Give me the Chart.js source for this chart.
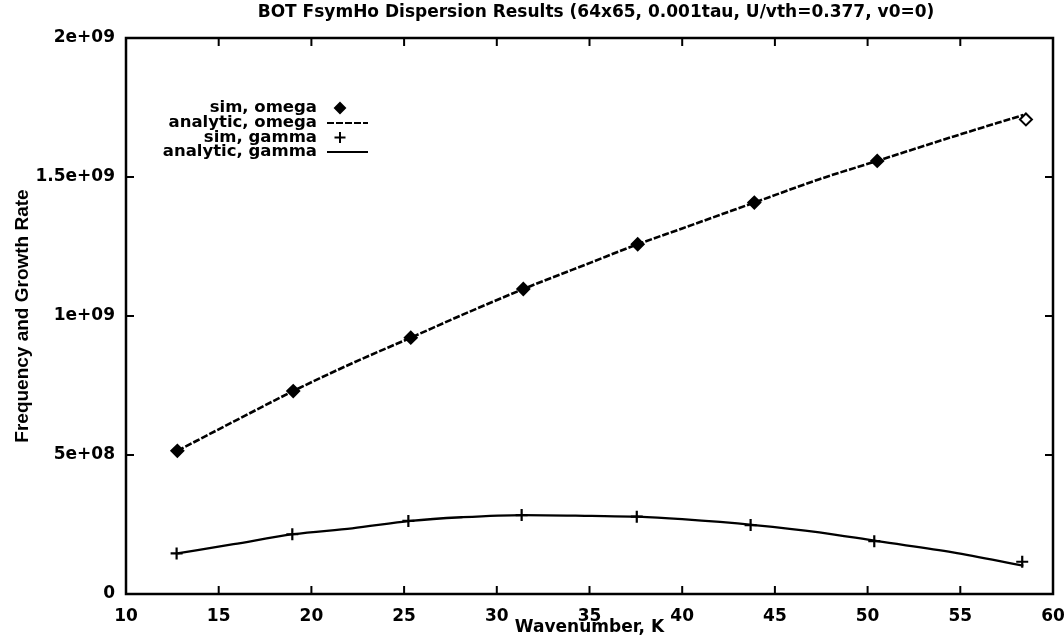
<!DOCTYPE html>
<html>
<head>
<meta charset="utf-8">
<title>BOT FsymHo Dispersion Results</title>
<script src="https://cdn.jsdelivr.net/npm/chart.js@4.4.1/dist/chart.umd.min.js"></script>
<style>
  html, body { margin: 0; padding: 0; background: #fff; }
  #wrap { width: 1064px; height: 639px; }
</style>
</head>
<body>
<div id="wrap"><canvas id="plot" width="1064" height="639"></canvas></div>
<script>
// Simulated points (wavenumber K, frequency omega, growth rate gamma)
const simK      = [12.77, 19.02, 25.36, 31.43, 37.60, 43.89, 50.52, 58.54];
const simOmega  = [0.515e9, 0.730e9, 0.922e9, 1.097e9, 1.258e9, 1.408e9, 1.558e9, 1.707e9];
const simGammaK = [12.73, 18.97, 25.23, 31.34, 37.55, 43.69, 50.36, 58.34];
const simGamma  = [0.146e9, 0.215e9, 0.263e9, 0.284e9, 0.278e9, 0.248e9, 0.190e9, 0.116e9];

// Analytic dispersion curves
const analyticK     = [12.77, 15.8, 19.02, 22.2, 25.36, 28.1, 31.43, 35.1, 37.6, 40.0, 43.89, 47.4, 50.52, 54.6, 58.4];
const analyticOmega = [0.515e9, 0.620e9, 0.730e9, 0.830e9, 0.922e9, 1.003e9, 1.097e9, 1.193e9, 1.258e9, 1.315e9, 1.408e9, 1.492e9, 1.558e9, 1.645e9, 1.723e9];
const analyticGamma = [0.146e9, 0.179e9, 0.215e9, 0.236e9, 0.263e9, 0.276e9, 0.284e9, 0.281e9, 0.278e9, 0.269e9, 0.248e9, 0.222e9, 0.190e9, 0.150e9, 0.102e9];

// Axis ticks
const xTicks = [10, 15, 20, 25, 30, 35, 40, 45, 50, 55, 60];
const yTickValues = [0, 5e8, 1e9, 1.5e9, 2e9];
const yTickLabels = ['0', '5e+08', '1e+09', '1.5e+09', '2e+09'];

const seriesLabels = ['sim, omega', 'analytic, omega', 'sim, gamma', 'analytic, gamma'];
const titleText = 'BOT FsymHo Dispersion Results (64x65, 0.001tau, U/vth=0.377, v0=0)';

const pts = (xs, ys) => xs.map((x, i) => ({ x: x, y: ys[i] }));
const FONT = '"DejaVu Sans", Verdana, sans-serif';
const YFONT = '"Liberation Sans", Arial, sans-serif';
const INK = '#000';

function drawMarker(ctx, style, x, y, r, fill) {
  ctx.save();
  ctx.strokeStyle = INK;
  ctx.lineWidth = 2;
  ctx.beginPath();
  if (style === 'rectRot') {
    ctx.moveTo(x, y - r); ctx.lineTo(x + r, y); ctx.lineTo(x, y + r); ctx.lineTo(x - r, y); ctx.closePath();
    ctx.fillStyle = fill || INK;
    ctx.fill();
    ctx.stroke();
  } else {
    ctx.moveTo(x - r, y); ctx.lineTo(x + r, y);
    ctx.moveTo(x, y - r); ctx.lineTo(x, y + r);
    ctx.stroke();
  }
  ctx.restore();
}

// Frame, inward ticks on all four sides, title and key in the gnuplot manner
const framePlugin = {
  id: 'frame',
  afterDatasetsDraw(chart) {
    const { ctx, chartArea: a, scales } = chart;
    const tl = 8;
    ctx.save();
    ctx.strokeStyle = INK;
    ctx.lineWidth = 2.5;
    ctx.strokeRect(a.left, a.top, a.right - a.left, a.bottom - a.top);
    ctx.lineWidth = 2;
    ctx.beginPath();
    xTicks.forEach(v => {
      const px = scales.x.getPixelForValue(v);
      ctx.moveTo(px, a.bottom); ctx.lineTo(px, a.bottom - tl);
      ctx.moveTo(px, a.top); ctx.lineTo(px, a.top + tl);
    });
    yTickValues.forEach(v => {
      const py = scales.y.getPixelForValue(v);
      ctx.moveTo(a.left, py); ctx.lineTo(a.left + tl, py);
      ctx.moveTo(a.right, py); ctx.lineTo(a.right - tl, py);
    });
    ctx.stroke();

    // title
    ctx.fillStyle = INK;
    ctx.font = 'bold 17px ' + FONT;
    ctx.textAlign = 'center';
    ctx.textBaseline = 'middle';
    ctx.fillText(titleText, 596, 13);

    // key
    const keyRight = 317, rowY = [108, 123, 137.5, 152];
    ctx.font = 'bold 16.5px ' + FONT;
    ctx.textAlign = 'right';
    chart.data.datasets.forEach((ds, i) => {
      const y = rowY[i];
      ctx.fillText(ds.label, keyRight, y);
      if (ds.showLine === false) {
        drawMarker(ctx, ds.pointStyle, 340, y, ds.pointStyle === 'rectRot' ? 5 : 5.5);
      } else {
        ctx.save();
        ctx.lineWidth = 2.2;
        ctx.setLineDash(ds.borderDash || []);
        ctx.beginPath();
        ctx.moveTo(327, y); ctx.lineTo(368, y);
        ctx.stroke();
        ctx.restore();
      }
    });
    ctx.restore();
  }
};

new Chart(document.getElementById('plot'), {
  type: 'scatter',
  data: {
    datasets: [
      {
        label: seriesLabels[0],
        data: pts(simK, simOmega),
        showLine: false,
        pointStyle: 'rectRot',
        pointRadius: 6,
        pointBorderWidth: 2,
        pointBorderColor: INK,
        pointBackgroundColor: c => (c.dataIndex === simK.length - 1 ? '#fff' : INK),
        order: 0
      },
      {
        label: seriesLabels[1],
        data: pts(analyticK, analyticOmega),
        showLine: true,
        borderColor: INK,
        borderWidth: 2.6,
        borderDash: [7, 2],
        cubicInterpolationMode: 'monotone',
        pointRadius: 0,
        order: 1
      },
      {
        label: seriesLabels[2],
        data: pts(simGammaK, simGamma),
        showLine: false,
        pointStyle: 'cross',
        pointRadius: 6,
        pointBorderWidth: 2.2,
        pointBorderColor: INK,
        order: 0
      },
      {
        label: seriesLabels[3],
        data: pts(analyticK, analyticGamma),
        showLine: true,
        borderColor: INK,
        borderWidth: 2.3,
        cubicInterpolationMode: 'monotone',
        pointRadius: 0,
        order: 1
      }
    ]
  },
  options: {
    responsive: false,
    devicePixelRatio: 1,
    animation: false,
    layout: { padding: { left: 0, right: 0, top: 38, bottom: 0 } },
    plugins: {
      legend: { display: false },
      title: { display: false },
      tooltip: { enabled: false }
    },
    scales: {
      x: {
        type: 'linear',
        min: 10, max: 60,
        afterBuildTicks: s => { s.ticks = xTicks.map(v => ({ value: v })); },
        afterFit: s => { s.height = 45; s.paddingRight = 11; },
        grid: { display: false, drawTicks: false },
        border: { display: false },
        ticks: { color: INK, padding: 12, maxRotation: 0, font: { family: FONT, size: 17, weight: 'bold' } },
        title: {
          display: true, text: 'Wavenumber, K', color: INK,
          font: { family: FONT, size: 17, weight: 'bold' },
          padding: { top: 0, bottom: 1 }
        }
      },
      y: {
        type: 'linear',
        min: 0, max: 2e9,
        afterBuildTicks: s => { s.ticks = yTickValues.map(v => ({ value: v })); },
        afterFit: s => { s.width = 126; },
        grid: { display: false, drawTicks: false },
        border: { display: false },
        ticks: {
          color: INK, padding: 11,
          font: { family: FONT, size: 17, weight: 'bold' },
          callback: v => yTickLabels[yTickValues.indexOf(v)]
        },
        title: {
          display: true, text: 'Frequency and Growth Rate', color: INK,
          font: { family: YFONT, size: 19, weight: 'bold' },
          padding: { top: 11, bottom: 0 }
        }
      }
    }
  },
  plugins: [framePlugin]
});
</script>
</body>
</html>
